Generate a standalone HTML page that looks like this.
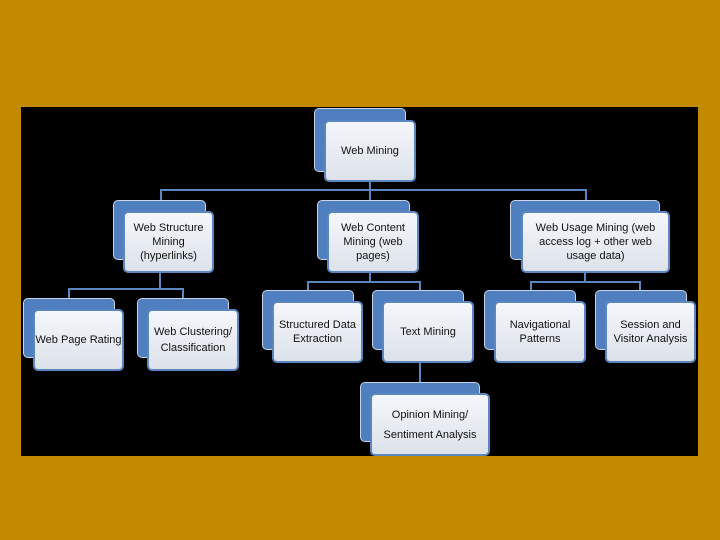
<!DOCTYPE html>
<html><head><meta charset="utf-8"><style>
body{margin:0;width:720px;height:540px;background:#c38a00;position:relative;overflow:hidden;font-family:"Liberation Sans",sans-serif}
.bk{position:absolute;left:21px;top:107px;width:677px;height:349px;background:#000}
.b{position:absolute;background:#4f7fbe;border:1px solid #c8d4e8;border-radius:5px}
.f{position:absolute;background:linear-gradient(#f4f7fb,#dde2ea);border:2px solid #5b86bf;border-radius:5px;display:flex;align-items:center;justify-content:center;text-align:center;font-size:11px;line-height:14px;color:#111;box-sizing:border-box}
.l{position:absolute;background:#5b86bf}
</style></head><body>
<div class="bk"></div>
<!-- connectors -->
<div class="l" style="left:160px;top:189px;width:426px;height:2px"></div>
<div class="l" style="left:369px;top:181px;width:2px;height:20px"></div>
<div class="l" style="left:160px;top:189px;width:2px;height:12px"></div>
<div class="l" style="left:585px;top:189px;width:2px;height:12px"></div>
<div class="l" style="left:68px;top:288px;width:116px;height:2px"></div>
<div class="l" style="left:159px;top:272px;width:2px;height:17px"></div>
<div class="l" style="left:68px;top:288px;width:2px;height:11px"></div>
<div class="l" style="left:182px;top:288px;width:2px;height:11px"></div>
<div class="l" style="left:307px;top:281px;width:114px;height:2px"></div>
<div class="l" style="left:369px;top:272px;width:2px;height:10px"></div>
<div class="l" style="left:307px;top:281px;width:2px;height:10px"></div>
<div class="l" style="left:419px;top:281px;width:2px;height:10px"></div>
<div class="l" style="left:530px;top:281px;width:111px;height:2px"></div>
<div class="l" style="left:584px;top:272px;width:2px;height:10px"></div>
<div class="l" style="left:530px;top:281px;width:2px;height:10px"></div>
<div class="l" style="left:639px;top:281px;width:2px;height:10px"></div>
<div class="l" style="left:419px;top:362px;width:2px;height:21px"></div>
<!-- nodes -->
<div class="b" style="left:314px;top:108px;width:90px;height:62px"></div>
<div class="f" style="left:324px;top:120px;width:92px;height:62px">Web Mining</div>
<div class="b" style="left:113px;top:200px;width:91px;height:58px"></div>
<div class="f" style="left:123px;top:211px;width:91px;height:62px">Web Structure Mining (hyperlinks)</div>
<div class="b" style="left:317px;top:200px;width:91px;height:58px"></div>
<div class="f" style="left:327px;top:211px;width:92px;height:62px">Web Content Mining (web pages)</div>
<div class="b" style="left:510px;top:200px;width:148px;height:58px"></div>
<div class="f" style="left:521px;top:211px;width:149px;height:62px">Web Usage Mining (web access log + other web usage data)</div>
<div class="b" style="left:23px;top:298px;width:90px;height:58px"></div>
<div class="f" style="left:33px;top:309px;width:91px;height:62px">Web Page Rating</div>
<div class="b" style="left:137px;top:298px;width:90px;height:58px"></div>
<div class="f" style="left:147px;top:309px;width:92px;height:62px;line-height:16px">Web Clustering/ Classification</div>
<div class="b" style="left:262px;top:290px;width:90px;height:58px"></div>
<div class="f" style="left:272px;top:301px;width:91px;height:62px">Structured Data Extraction</div>
<div class="b" style="left:372px;top:290px;width:90px;height:58px"></div>
<div class="f" style="left:382px;top:301px;width:92px;height:62px">Text Mining</div>
<div class="b" style="left:484px;top:290px;width:90px;height:58px"></div>
<div class="f" style="left:494px;top:301px;width:92px;height:62px">Navigational Patterns</div>
<div class="b" style="left:595px;top:290px;width:90px;height:58px"></div>
<div class="f" style="left:605px;top:301px;width:91px;height:62px">Session and Visitor Analysis</div>
<div class="b" style="left:360px;top:382px;width:118px;height:58px"></div>
<div class="f" style="left:370px;top:393px;width:120px;height:63px;line-height:20px">Opinion Mining/ Sentiment Analysis</div>
</body></html>
